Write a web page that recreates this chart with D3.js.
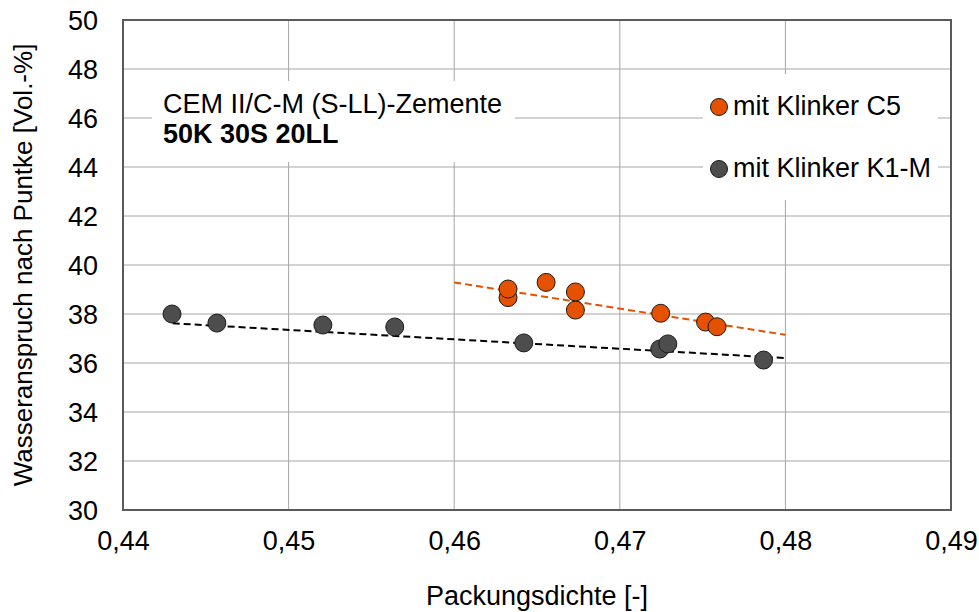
<!DOCTYPE html>
<html>
<head>
<meta charset="utf-8">
<script src="https://cdn.jsdelivr.net/npm/d3@7"></script>
<style>
  html, body { margin: 0; padding: 0; background: #fff; }
  svg { display: block; font-family: "Liberation Sans", Arial, sans-serif; }
</style>
</head>
<body>
<svg id="chart" width="979" height="612"></svg>
<script>
// ---- data ----
const xTicks = [0.44, 0.45, 0.46, 0.47, 0.48, 0.49];
const yTicks = [30, 32, 34, 36, 38, 40, 42, 44, 46, 48, 50];

const seriesNames = ["mit Klinker C5", "mit Klinker K1-M"];

const c5X = [0.46325, 0.46325, 0.46555, 0.46732, 0.46732, 0.47247, 0.47518, 0.47587];
const c5Y = [38.67, 39.02, 39.29, 38.90, 38.16, 38.03, 37.67, 37.48];

const k1X = [0.44296, 0.44567, 0.45207, 0.45641, 0.46420, 0.47241, 0.47290, 0.47868];
const k1Y = [38.00, 37.63, 37.55, 37.47, 36.82, 36.57, 36.78, 36.12];

const trendC5X = [0.46, 0.48];
const trendC5Y = [39.29, 37.15];
const trendK1X = [0.443, 0.48];
const trendK1Y = [37.62, 36.20];

const boxLine1 = "CEM II/C-M (S-LL)-Zemente";
const boxLine2 = "50K 30S 20LL";
const xTitle = "Packungsdichte [-]";
const yTitle = "Wasseranspruch nach Puntke [Vol.-%]";

(function () {
// ---- layout ----
const orange = "#E65100";
const grey = "#4d4d4d";
const pL = 123, pR = 951, pT = 20, pB = 510;
const fs = 27;

const svg = d3.select("#chart");
const x = d3.scaleLinear().domain([0.44, 0.49]).range([pL, pR]);
const y = d3.scaleLinear().domain([30, 50]).range([pB, pT]);
const fmt = d => d.toFixed(2).replace(".", ",");

// gridlines
svg.append("g").selectAll("line").data(xTicks.slice(1, -1)).join("line")
  .attr("x1", d => x(d)).attr("x2", d => x(d)).attr("y1", pT).attr("y2", pB)
  .attr("stroke", "#a6a6a6").attr("stroke-width", 1);
svg.append("g").selectAll("line").data(yTicks.slice(1, -1)).join("line")
  .attr("y1", d => y(d)).attr("y2", d => y(d)).attr("x1", pL).attr("x2", pR)
  .attr("stroke", "#a6a6a6").attr("stroke-width", 1);

// white boxes (text box & legend)
svg.append("rect").attr("x", 152).attr("y", 81).attr("width", 363).attr("height", 81).attr("fill", "#fff");
svg.append("rect").attr("x", 703).attr("y", 74).attr("width", 235).attr("height", 126).attr("fill", "#fff");

// frame
svg.append("rect").attr("x", pL).attr("y", pT).attr("width", pR - pL).attr("height", pB - pT)
  .attr("fill", "none").attr("stroke", "#5a5a5a").attr("stroke-width", 2);

// axes (labels only)
const xAxis = d3.axisBottom(x).tickValues(xTicks).tickFormat(fmt).tickSize(0).tickPadding(0);
const gx = svg.append("g").attr("transform", `translate(0,${pB})`).call(xAxis);
gx.select(".domain").remove();
gx.selectAll("text").attr("dy", null).attr("y", 40).attr("font-size", fs)
  .attr("font-family", "Liberation Sans, Arial, sans-serif").attr("fill", "#000");

const yAxis = d3.axisLeft(y).tickValues(yTicks).tickFormat(d3.format("d")).tickSize(0).tickPadding(0);
const gy = svg.append("g").attr("transform", `translate(${pL},0)`).call(yAxis);
gy.select(".domain").remove();
gy.selectAll("text").attr("x", -25).attr("dy", "0.35em").attr("font-size", fs)
  .attr("font-family", "Liberation Sans, Arial, sans-serif").attr("fill", "#000");

// trendlines
const line = d3.line().x(d => x(d[0])).y(d => y(d[1]));
svg.append("path").datum(d3.zip(trendC5X, trendC5Y)).attr("d", line)
  .attr("fill", "none").attr("stroke", orange).attr("stroke-width", 2).attr("stroke-dasharray", "7,4");
svg.append("path").datum(d3.zip(trendK1X, trendK1Y)).attr("d", line)
  .attr("fill", "none").attr("stroke", "#000").attr("stroke-width", 2).attr("stroke-dasharray", "7,4");

// points
svg.append("g").selectAll("circle").data(d3.zip(k1X, k1Y)).join("circle")
  .attr("cx", d => x(d[0])).attr("cy", d => y(d[1])).attr("r", 9)
  .attr("fill", grey).attr("stroke", "#1a1a1a").attr("stroke-width", 1);
svg.append("g").selectAll("circle").data(d3.zip(c5X, c5Y)).join("circle")
  .attr("cx", d => x(d[0])).attr("cy", d => y(d[1])).attr("r", 9)
  .attr("fill", orange).attr("stroke", "#1a1a1a").attr("stroke-width", 1);

// text box
svg.append("text").attr("x", 163).attr("y", 113).attr("font-size", fs).text(boxLine1);
svg.append("text").attr("x", 163).attr("y", 143).attr("font-size", fs).attr("font-weight", "bold").text(boxLine2);

// legend
const legColors = [orange, grey];
const legY = [107, 169];
seriesNames.forEach((n, i) => {
  svg.append("circle").attr("cx", 719).attr("cy", legY[i]).attr("r", 8.5)
    .attr("fill", legColors[i]).attr("stroke", "#1a1a1a").attr("stroke-width", 1);
  svg.append("text").attr("x", 733).attr("y", legY[i] + 8).attr("font-size", fs).text(n);
});

// axis titles
svg.append("text").attr("x", (pL + pR) / 2).attr("y", 605).attr("text-anchor", "middle")
  .attr("font-size", fs).text(xTitle);
svg.append("text").attr("transform", `translate(32,${(pT + pB) / 2}) rotate(-90)`)
  .attr("text-anchor", "middle").attr("font-size", 26).text(yTitle);
})();
</script>
</body>
</html>
